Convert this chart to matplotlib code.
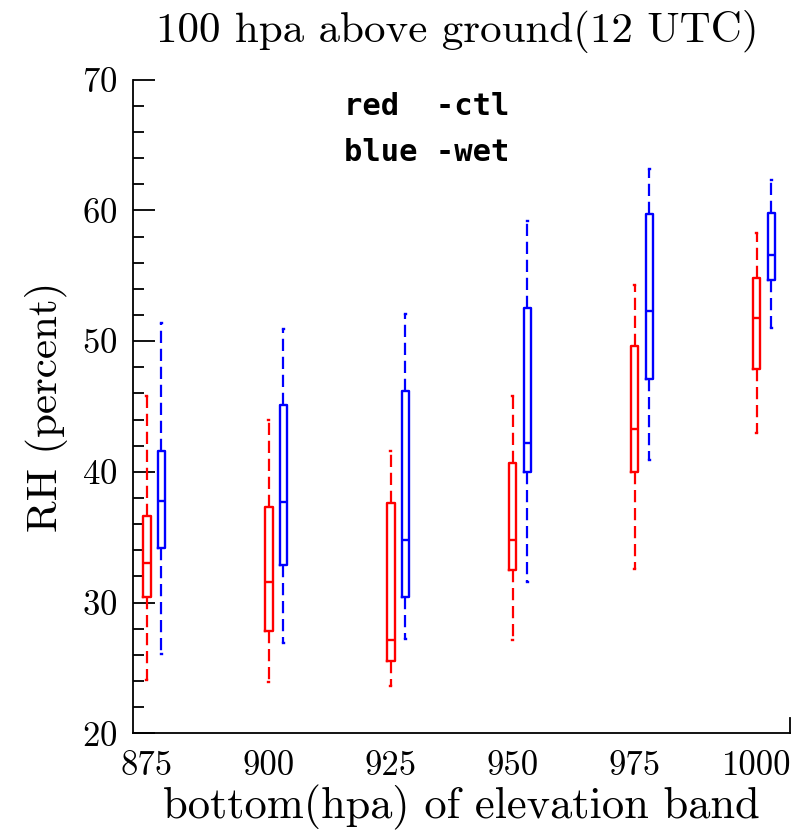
import numpy as np
import matplotlib
matplotlib.use("Agg")
import matplotlib.pyplot as plt

plt.rcParams['font.family'] = ['cmr10', 'DejaVu Serif']
plt.rcParams['axes.formatter.use_mathtext'] = True

bands = ['875', '900', '925', '950', '975', '1000']

# box stats: whisker low, q1, median, q3, whisker high
ctl_lo  = [24.1, 23.9, 23.6, 27.1, 32.6, 43.0]
ctl_q1  = [30.4, 27.8, 25.5, 32.5, 40.0, 47.9]
ctl_med = [33.0, 31.6, 27.1, 34.8, 43.3, 51.8]
ctl_q3  = [36.6, 37.3, 37.6, 40.7, 49.6, 54.8]
ctl_hi  = [45.8, 44.0, 41.6, 45.8, 54.3, 58.3]

wet_lo  = [26.1, 26.9, 27.2, 31.6, 40.9, 51.0]
wet_q1  = [34.2, 32.9, 30.4, 40.0, 47.1, 54.7]
wet_med = [37.8, 37.7, 34.8, 42.2, 52.3, 56.6]
wet_q3  = [41.6, 45.1, 46.2, 52.5, 59.7, 59.8]
wet_hi  = [51.4, 50.9, 52.1, 59.2, 63.2, 62.3]


def stats(lo, q1, med, q3, hi):
    out = []
    for i in range(len(lo)):
        out.append(dict(whislo=lo[i], q1=q1[i], med=med[i], q3=q3[i],
                        whishi=hi[i], fliers=[]))
    return out


fig = plt.figure(figsize=(8.1, 8.39), dpi=100)
ax = fig.add_axes([0.164, 0.126, 0.811, 0.779])

pos = np.arange(len(bands))
off = 0.118
w = 0.06

for st, p, col in [(stats(ctl_lo, ctl_q1, ctl_med, ctl_q3, ctl_hi), pos, 'red'),
                   (stats(wet_lo, wet_q1, wet_med, wet_q3, wet_hi), pos + off, 'blue')]:
    ax.bxp(st, positions=p, widths=w, showfliers=False, manage_ticks=False,
           boxprops=dict(color=col, lw=1.7),
           medianprops=dict(color=col, lw=1.7),
           whiskerprops=dict(color=col, lw=1.6, ls=(0, (5.5, 2.6))),
           capprops=dict(color=col, lw=1.7), capwidths=0.008)

ax.set_xlim(-0.115, 5.27)
ax.set_ylim(20, 70)
ax.set_xticks(pos)
ax.set_xticklabels(bands)
ax.set_yticks(np.arange(20, 71, 10))
ax.set_yticks(np.arange(20, 71, 2), minor=True)
ax.tick_params(axis='y', which='major', direction='in', length=16, width=1.3,
               labelsize=25, pad=11)
ax.tick_params(axis='y', which='minor', direction='in', length=8, width=1.3)
ax.tick_params(axis='x', which='both', length=0, labelsize=25, pad=12)

ax.spines['top'].set_visible(False)
ax.spines['right'].set_bounds(20, 21.2)
for s in ['left', 'bottom', 'right']:
    ax.spines[s].set_linewidth(1.3)

ax.set_xlabel('bottom(hpa) of elevation band', fontsize=32, labelpad=2)
ax.set_ylabel('RH (percent)', fontsize=31, labelpad=10)
fig.text(0.565, 0.962, '100 hpa above ground(12 UTC)', fontsize=31,
         ha='center', va='center')

ax.text(0.322, 0.959, 'red  -ctl', transform=ax.transAxes, fontsize=22,
        fontweight='bold', family='DejaVu Sans Mono', va='center')
ax.text(0.322, 0.888, 'blue -wet', transform=ax.transAxes, fontsize=22,
        fontweight='bold', family='DejaVu Sans Mono', va='center')

fig.savefig('out.png', dpi=100)
